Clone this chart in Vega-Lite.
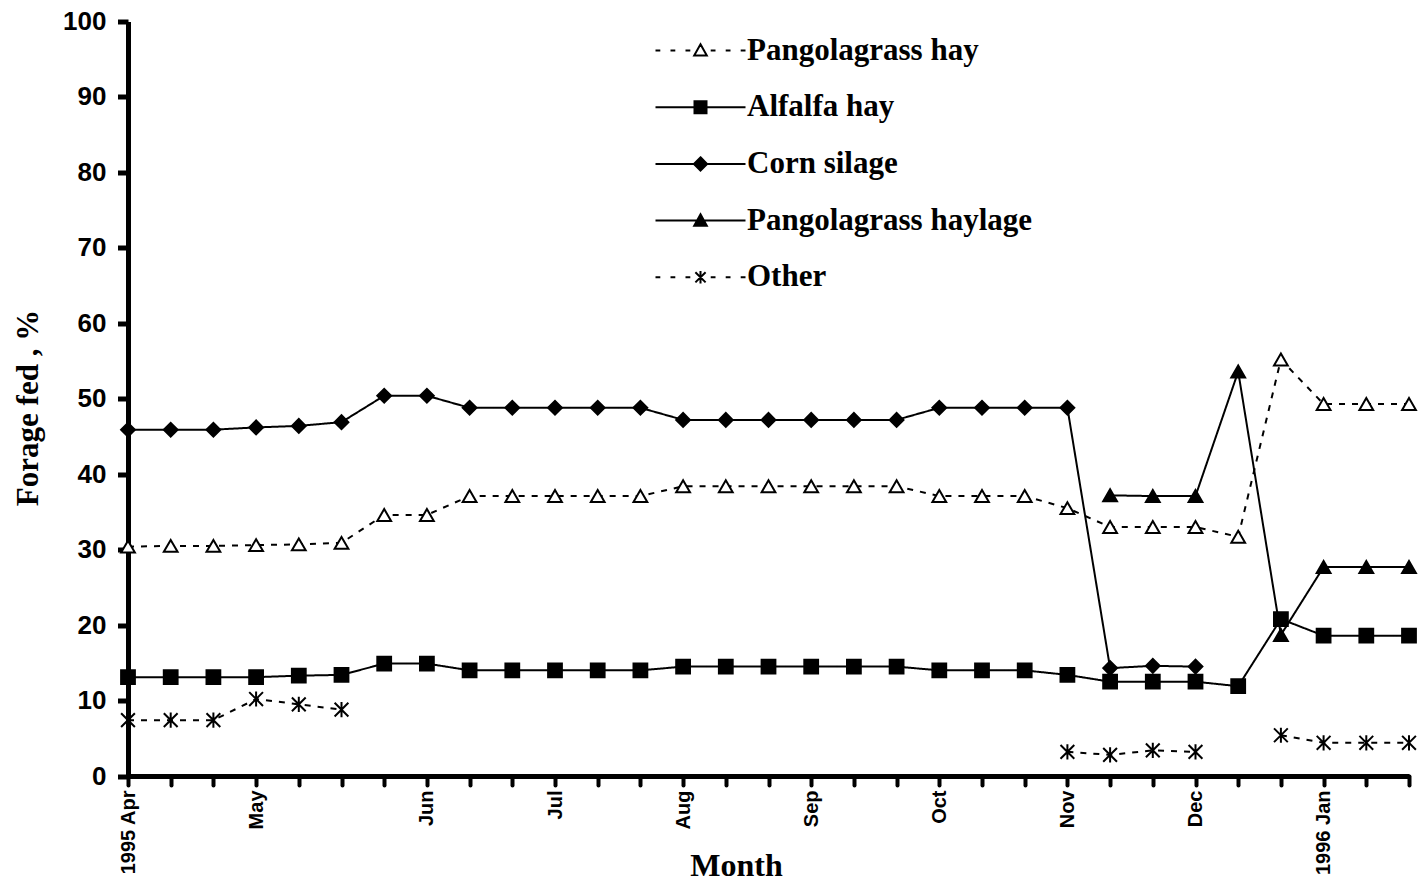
{
  "$schema": "https://vega.github.io/schema/vega-lite/v6.json",
  "autosize": {"type": "none"},
  "width": 1281,
  "height": 754.5,
  "padding": {"left": 128, "top": 21.5, "right": 16, "bottom": 105},
  "background": "white",
  "config": {
    "view": {"stroke": null},
    "axis": {"grid": false, "domainColor": "black", "tickColor": "black", "labelColor": "black", "titleColor": "black"},
    "legend": {
      "orient": "none",
      "legendX": 557,
      "legendY": 13.5,
      "padding": 0,
      "symbolSize": 144,
      "symbolStrokeWidth": 2,
      "symbolStrokeColor": "black",
      "symbolOpacity": 1,
      "labelFont": "Liberation Serif",
      "labelFontWeight": "bold",
      "labelFontSize": 31,
      "labelColor": "black",
      "labelOffset": 31,
      "labelLimit": 600,
      "rowPadding": 24.7
    }
  },
  "data": {
    "values": [
      {"obs": 0, "series": "Pangolagrass hay", "run": "H", "pct": 30.4},
      {"obs": 1, "series": "Pangolagrass hay", "run": "H", "pct": 30.5},
      {"obs": 2, "series": "Pangolagrass hay", "run": "H", "pct": 30.5},
      {"obs": 3, "series": "Pangolagrass hay", "run": "H", "pct": 30.6},
      {"obs": 4, "series": "Pangolagrass hay", "run": "H", "pct": 30.7},
      {"obs": 5, "series": "Pangolagrass hay", "run": "H", "pct": 30.9},
      {"obs": 6, "series": "Pangolagrass hay", "run": "H", "pct": 34.6},
      {"obs": 7, "series": "Pangolagrass hay", "run": "H", "pct": 34.6},
      {"obs": 8, "series": "Pangolagrass hay", "run": "H", "pct": 37.1},
      {"obs": 9, "series": "Pangolagrass hay", "run": "H", "pct": 37.1},
      {"obs": 10, "series": "Pangolagrass hay", "run": "H", "pct": 37.1},
      {"obs": 11, "series": "Pangolagrass hay", "run": "H", "pct": 37.1},
      {"obs": 12, "series": "Pangolagrass hay", "run": "H", "pct": 37.1},
      {"obs": 13, "series": "Pangolagrass hay", "run": "H", "pct": 38.4},
      {"obs": 14, "series": "Pangolagrass hay", "run": "H", "pct": 38.4},
      {"obs": 15, "series": "Pangolagrass hay", "run": "H", "pct": 38.4},
      {"obs": 16, "series": "Pangolagrass hay", "run": "H", "pct": 38.4},
      {"obs": 17, "series": "Pangolagrass hay", "run": "H", "pct": 38.4},
      {"obs": 18, "series": "Pangolagrass hay", "run": "H", "pct": 38.4},
      {"obs": 19, "series": "Pangolagrass hay", "run": "H", "pct": 37.1},
      {"obs": 20, "series": "Pangolagrass hay", "run": "H", "pct": 37.1},
      {"obs": 21, "series": "Pangolagrass hay", "run": "H", "pct": 37.1},
      {"obs": 22, "series": "Pangolagrass hay", "run": "H", "pct": 35.5},
      {"obs": 23, "series": "Pangolagrass hay", "run": "H", "pct": 33.0},
      {"obs": 24, "series": "Pangolagrass hay", "run": "H", "pct": 33.0},
      {"obs": 25, "series": "Pangolagrass hay", "run": "H", "pct": 33.0},
      {"obs": 26, "series": "Pangolagrass hay", "run": "H", "pct": 31.7},
      {"obs": 27, "series": "Pangolagrass hay", "run": "H", "pct": 55.2},
      {"obs": 28, "series": "Pangolagrass hay", "run": "H", "pct": 49.3},
      {"obs": 29, "series": "Pangolagrass hay", "run": "H", "pct": 49.3},
      {"obs": 30, "series": "Pangolagrass hay", "run": "H", "pct": 49.3},

      {"obs": 0, "series": "Alfalfa hay", "run": "A", "pct": 13.1},
      {"obs": 1, "series": "Alfalfa hay", "run": "A", "pct": 13.1},
      {"obs": 2, "series": "Alfalfa hay", "run": "A", "pct": 13.1},
      {"obs": 3, "series": "Alfalfa hay", "run": "A", "pct": 13.1},
      {"obs": 4, "series": "Alfalfa hay", "run": "A", "pct": 13.3},
      {"obs": 5, "series": "Alfalfa hay", "run": "A", "pct": 13.4},
      {"obs": 6, "series": "Alfalfa hay", "run": "A", "pct": 14.9},
      {"obs": 7, "series": "Alfalfa hay", "run": "A", "pct": 14.9},
      {"obs": 8, "series": "Alfalfa hay", "run": "A", "pct": 14.0},
      {"obs": 9, "series": "Alfalfa hay", "run": "A", "pct": 14.0},
      {"obs": 10, "series": "Alfalfa hay", "run": "A", "pct": 14.0},
      {"obs": 11, "series": "Alfalfa hay", "run": "A", "pct": 14.0},
      {"obs": 12, "series": "Alfalfa hay", "run": "A", "pct": 14.0},
      {"obs": 13, "series": "Alfalfa hay", "run": "A", "pct": 14.5},
      {"obs": 14, "series": "Alfalfa hay", "run": "A", "pct": 14.5},
      {"obs": 15, "series": "Alfalfa hay", "run": "A", "pct": 14.5},
      {"obs": 16, "series": "Alfalfa hay", "run": "A", "pct": 14.5},
      {"obs": 17, "series": "Alfalfa hay", "run": "A", "pct": 14.5},
      {"obs": 18, "series": "Alfalfa hay", "run": "A", "pct": 14.5},
      {"obs": 19, "series": "Alfalfa hay", "run": "A", "pct": 14.0},
      {"obs": 20, "series": "Alfalfa hay", "run": "A", "pct": 14.0},
      {"obs": 21, "series": "Alfalfa hay", "run": "A", "pct": 14.0},
      {"obs": 22, "series": "Alfalfa hay", "run": "A", "pct": 13.4},
      {"obs": 23, "series": "Alfalfa hay", "run": "A", "pct": 12.5},
      {"obs": 24, "series": "Alfalfa hay", "run": "A", "pct": 12.5},
      {"obs": 25, "series": "Alfalfa hay", "run": "A", "pct": 12.5},
      {"obs": 26, "series": "Alfalfa hay", "run": "A", "pct": 11.9},
      {"obs": 27, "series": "Alfalfa hay", "run": "A", "pct": 20.8},
      {"obs": 28, "series": "Alfalfa hay", "run": "A", "pct": 18.6},
      {"obs": 29, "series": "Alfalfa hay", "run": "A", "pct": 18.6},
      {"obs": 30, "series": "Alfalfa hay", "run": "A", "pct": 18.6},

      {"obs": 0, "series": "Corn silage", "run": "C", "pct": 45.9},
      {"obs": 1, "series": "Corn silage", "run": "C", "pct": 45.9},
      {"obs": 2, "series": "Corn silage", "run": "C", "pct": 45.9},
      {"obs": 3, "series": "Corn silage", "run": "C", "pct": 46.2},
      {"obs": 4, "series": "Corn silage", "run": "C", "pct": 46.4},
      {"obs": 5, "series": "Corn silage", "run": "C", "pct": 46.9},
      {"obs": 6, "series": "Corn silage", "run": "C", "pct": 50.4},
      {"obs": 7, "series": "Corn silage", "run": "C", "pct": 50.4},
      {"obs": 8, "series": "Corn silage", "run": "C", "pct": 48.8},
      {"obs": 9, "series": "Corn silage", "run": "C", "pct": 48.8},
      {"obs": 10, "series": "Corn silage", "run": "C", "pct": 48.8},
      {"obs": 11, "series": "Corn silage", "run": "C", "pct": 48.8},
      {"obs": 12, "series": "Corn silage", "run": "C", "pct": 48.8},
      {"obs": 13, "series": "Corn silage", "run": "C", "pct": 47.2},
      {"obs": 14, "series": "Corn silage", "run": "C", "pct": 47.2},
      {"obs": 15, "series": "Corn silage", "run": "C", "pct": 47.2},
      {"obs": 16, "series": "Corn silage", "run": "C", "pct": 47.2},
      {"obs": 17, "series": "Corn silage", "run": "C", "pct": 47.2},
      {"obs": 18, "series": "Corn silage", "run": "C", "pct": 47.2},
      {"obs": 19, "series": "Corn silage", "run": "C", "pct": 48.8},
      {"obs": 20, "series": "Corn silage", "run": "C", "pct": 48.8},
      {"obs": 21, "series": "Corn silage", "run": "C", "pct": 48.8},
      {"obs": 22, "series": "Corn silage", "run": "C", "pct": 48.8},
      {"obs": 23, "series": "Corn silage", "run": "C", "pct": 14.3},
      {"obs": 24, "series": "Corn silage", "run": "C", "pct": 14.6},
      {"obs": 25, "series": "Corn silage", "run": "C", "pct": 14.5},

      {"obs": 23, "series": "Pangolagrass haylage", "run": "L", "pct": 37.2},
      {"obs": 24, "series": "Pangolagrass haylage", "run": "L", "pct": 37.1},
      {"obs": 25, "series": "Pangolagrass haylage", "run": "L", "pct": 37.1},
      {"obs": 26, "series": "Pangolagrass haylage", "run": "L", "pct": 53.6},
      {"obs": 27, "series": "Pangolagrass haylage", "run": "L", "pct": 18.7},
      {"obs": 28, "series": "Pangolagrass haylage", "run": "L", "pct": 27.7},
      {"obs": 29, "series": "Pangolagrass haylage", "run": "L", "pct": 27.7},
      {"obs": 30, "series": "Pangolagrass haylage", "run": "L", "pct": 27.7},

      {"obs": 0, "series": "Other", "run": "O1", "pct": 7.4},
      {"obs": 1, "series": "Other", "run": "O1", "pct": 7.4},
      {"obs": 2, "series": "Other", "run": "O1", "pct": 7.4},
      {"obs": 3, "series": "Other", "run": "O1", "pct": 10.2},
      {"obs": 4, "series": "Other", "run": "O1", "pct": 9.5},
      {"obs": 5, "series": "Other", "run": "O1", "pct": 8.8},
      {"obs": 22, "series": "Other", "run": "O2", "pct": 3.2},
      {"obs": 23, "series": "Other", "run": "O2", "pct": 2.8},
      {"obs": 24, "series": "Other", "run": "O2", "pct": 3.4},
      {"obs": 25, "series": "Other", "run": "O2", "pct": 3.2},
      {"obs": 27, "series": "Other", "run": "O3", "pct": 5.4},
      {"obs": 28, "series": "Other", "run": "O3", "pct": 4.4},
      {"obs": 29, "series": "Other", "run": "O3", "pct": 4.4},
      {"obs": 30, "series": "Other", "run": "O3", "pct": 4.4}
    ]
  },
  "encoding": {
    "x": {
      "field": "obs", "type": "quantitative",
      "scale": {"domain": [0, 30], "nice": false, "zero": false},
      "axis": {
        "title": "Month",
        "titleFont": "Liberation Serif", "titleFontWeight": "bold", "titleFontSize": 32,
        "titleX": 608, "titleY": 99, "titleAlign": "center", "titleBaseline": "alphabetic", "titleAnchor": null,
        "values": [0,1,2,3,4,5,6,7,8,9,10,11,12,13,14,15,16,17,18,19,20,21,22,23,24,25,26,27,28,29,30],
        "labelExpr": "datum.value === 0 ? '1995 Apr' : datum.value === 3 ? 'May' : datum.value === 7 ? 'Jun' : datum.value === 10 ? 'Jul' : datum.value === 13 ? 'Aug' : datum.value === 16 ? 'Sep' : datum.value === 19 ? 'Oct' : datum.value === 22 ? 'Nov' : datum.value === 25 ? 'Dec' : datum.value === 28 ? '1996 Jan' : ''",
        "labelAngle": -90, "labelFont": "Liberation Sans", "labelFontWeight": "bold", "labelFontSize": 20,
        "labelOverlap": false, "labelBound": false, "labelFlush": false, "labelPadding": 5,
        "domainWidth": 5, "tickWidth": 4, "tickSize": 9, "tickCap": "round",
        "encode": {"ticks": {"update": {"y2": {"value": -9}}}}
      }
    },
    "y": {
      "field": "pct", "type": "quantitative",
      "scale": {"domain": [0, 100], "nice": false},
      "axis": {
        "title": "Forage fed , %",
        "titleFont": "Liberation Serif", "titleFontWeight": "bold", "titleFontSize": 31,
        "titleX": -90.5, "titleY": 386, "titleAngle": -90, "titleAlign": "center", "titleBaseline": "alphabetic", "titleAnchor": null,
        "values": [0,10,20,30,40,50,60,70,80,90,100],
        "labelFont": "Liberation Sans", "labelFontWeight": "bold", "labelFontSize": 26,
        "labelPadding": 11.5,
        "domainWidth": 5, "tickWidth": 5, "tickSize": 10.5, "tickCap": "butt",
        "encode": {"ticks": {"update": {"x": {"value": 10.5}, "x2": {"value": -10.5}}}}
      }
    }
  },
  "layer": [
    {
      "mark": {"type": "line", "color": "black", "strokeWidth": 2},
      "encoding": {
        "strokeDash": {
          "field": "run", "type": "nominal",
          "scale": {
            "domain": ["H", "A", "C", "L", "O1", "O2", "O3"],
            "range": [[6, 7], [1, 0], [1, 0], [1, 0], [6, 7], [6, 7], [6, 7]]
          },
          "legend": null
        }
      }
    },
    {
      "mark": {"type": "point", "filled": true, "stroke": "black", "strokeWidth": 2, "size": 190, "opacity": 1},
      "encoding": {
        "fill": {
          "condition": {"test": "datum.series === 'Pangolagrass hay'", "value": "white"},
          "value": "black"
        },
        "shape": {
          "condition": [
            {"test": "datum.series === 'Alfalfa hay'", "value": "square"},
            {"test": "datum.series === 'Corn silage'", "value": "diamond"},
            {"test": "datum.series === 'Other'", "value": "M-1,-1L1,1M-1,1L1,-1M0,-1.1L0,1.1"}
          ],
          "value": "triangle-up"
        }
      }
    },
    {
      "mark": {"type": "point", "filled": false, "color": "black", "strokeWidth": 2, "size": 144, "opacity": 0},
      "encoding": {
        "shape": {
          "field": "series", "type": "nominal",
          "scale": {
            "domain": ["Pangolagrass hay", "Alfalfa hay", "Corn silage", "Pangolagrass haylage", "Other"],
            "range": [
              "M-7.5,0H-6.7M-5,0H-4.2M-2.5,0H-1.7M1.7,0H2.5M4.2,0H5M6.7,0H7.5M0,-1.05L1.05,0.85L-1.05,0.85Z",
              "M-7.5,0H7.5M-1,-1H1V1H-1Z",
              "M-7.5,0H7.5M0,-1.1L1.1,0L0,1.1L-1.1,0Z",
              "M-7.5,0H7.5M0,-1.05L1.05,0.85L-1.05,0.85Z",
              "M-7.5,0H-6.7M-5,0H-4.2M-2.5,0H-1.7M1.7,0H2.5M4.2,0H5M6.7,0H7.5M-0.85,-0.85L0.85,0.85M-0.85,0.85L0.85,-0.85M0,-1.05L0,1.05"
            ]
          },
          "legend": {"title": null}
        },
        "fill": {
          "field": "series", "type": "nominal",
          "scale": {
            "domain": ["Pangolagrass hay", "Alfalfa hay", "Corn silage", "Pangolagrass haylage", "Other"],
            "range": ["white", "black", "black", "black", "transparent"]
          },
          "legend": {"title": null}
        },
        "stroke": {
          "field": "series", "type": "nominal",
          "scale": {
            "domain": ["Pangolagrass hay", "Alfalfa hay", "Corn silage", "Pangolagrass haylage", "Other"],
            "range": ["black", "black", "black", "black", "black"]
          },
          "legend": {"title": null}
        }
      }
    }
  ]
}
